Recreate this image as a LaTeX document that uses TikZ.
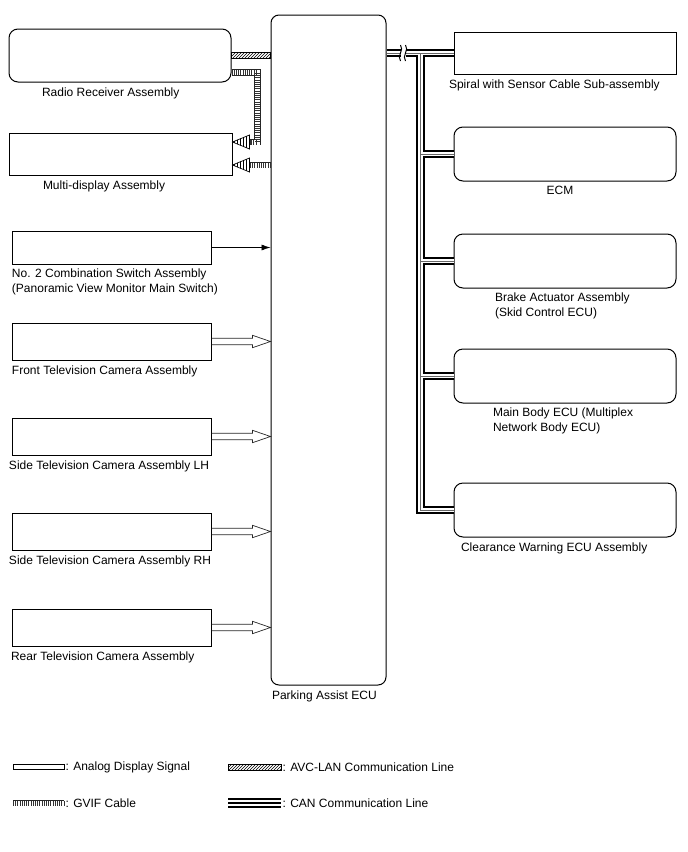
\documentclass[tikz,border=0pt]{standalone}
\usepackage{fontspec}
\setmainfont{Liberation Sans}
\usetikzlibrary{positioning, calc, arrows.meta, patterns}

% hollow analog arrow from #1 to #2
\newcommand{\analogarrow}[2]{%
  \draw[analog] ($(#1.east)+(0,-3.3)$) -- ($(#2.west |- #1.east)+(-18,-3.3)$)
     -- ++(0,-2.9) -- (#2.west |- #1.east) -- ++(-18,6.2) -- ++(0,-2.9)
     -- ($(#1.east)+(0,3.3)$);}
% striped GVIF arrow head, tip at #1
\newcommand{\gvifhead}[1]{%
  \draw[line width=0.7pt, fill=white, postaction={pattern=vertical lines}] (#1) -- ++(17,-7) -- ++(0,14) -- cycle;}

\begin{document}
\begin{tikzpicture}[x=1pt, y=-1pt, line width=1pt,
    box/.style={draw, rectangle, inner sep=0pt},
    rbox/.style={box, rounded corners=9pt},
    lbl/.style={inner sep=0pt, align=left, font=\fontsize{12}{14.5}\selectfont},
    analog/.style={line width=0.7pt, black!85},
    avc/.style={line width=0.7pt, pattern=north east lines},
    gvif/.style={line width=6.6pt, black!85, postaction={draw=white, line width=5pt},
      postaction={draw=black!80, line width=5pt, dash pattern=on 0.7pt off 1.5pt}},
    can/.style={line width=8.5pt, postaction={draw=white, line width=4.6pt},
      postaction={draw=black!60, line width=1pt}}]

    \useasboundingbox (0,0) rectangle (688,852);

    % Parking assist ECU in the middle
    \node[box, rounded corners=8pt, minimum width=115pt, minimum height=670pt] (ecu) at (328.5,350) {};
    \node[lbl, anchor=north west] (ecuL) at ($(ecu.south west)+(1,4.5)$) {Parking Assist ECU};

    % Left column of units
    \node[rbox, minimum width=222pt, minimum height=53pt] (radio) at (120,55.5) {};
    \node[box, minimum width=223pt, minimum height=42pt] (mdisp) at (120.5,154) {};
    \node[box, minimum width=199pt, minimum height=33pt] (sw) at (111.5,247.5) {};
    \node[box, minimum width=199pt, minimum height=37pt] (camF) at (111.5,341.5) {};
    \node[box, minimum width=199pt, minimum height=37pt] (camL) at (111.5,436.5) {};
    \node[box, minimum width=199pt, minimum height=37pt] (camR) at (111.5,531.5) {};
    \node[box, minimum width=199pt, minimum height=37pt] (camB) at (111.5,627.5) {};

    \node[lbl, anchor=north west] (radioL) at ($(radio.south west)+(33,4.5)$) {Radio Receiver Assembly};
    \node[lbl, anchor=north west] (mdispL) at ($(mdisp.south west)+(34,4.5)$) {Multi-display Assembly};
    \node[lbl, anchor=north west] (swL) at ($(sw.south west)+(0,4)$) {No. 2 Combination Switch Assembly\\(Panoramic View Monitor Main Switch)};
    \node[lbl, anchor=north west] (camFL) at ($(camF.south west)+(0,4.5)$) {Front Television Camera Assembly};
    \node[lbl, anchor=north west] (camLL) at ($(camL.south west)+(-3,4.5)$) {Side Television Camera Assembly LH};
    \node[lbl, anchor=north west] (camRL) at ($(camR.south west)+(-3,4.5)$) {Side Television Camera Assembly RH};
    \node[lbl, anchor=north west] (camBL) at ($(camB.south west)+(-1,4.5)$) {Rear Television Camera Assembly};

    % Right column of units on the CAN bus
    \node[box, minimum width=222pt, minimum height=42pt] (spiral) at (565,53) {};
    \node[rbox, minimum width=222pt, minimum height=54pt] (ecm) at (565,154) {};
    \node[rbox, minimum width=222pt, minimum height=54pt] (brake) at (565,261) {};
    \node[rbox, minimum width=222pt, minimum height=54pt] (body) at (565,376) {};
    \node[rbox, minimum width=222pt, minimum height=54pt] (clear) at (565,510) {};

    \node[lbl, anchor=north west] (spiralL) at ($(spiral.south west)+(-5,4.5)$) {Spiral with Sensor Cable Sub-assembly};
    \node[lbl, anchor=north] (ecmL) at ($(ecm.south)+(-5,4.5)$) {ECM};
    \node[lbl, anchor=north west] (brakeL) at ($(brake.south west)+(41,4)$) {Brake Actuator Assembly\\(Skid Control ECU)};
    \node[lbl, anchor=north west] (bodyL) at ($(body.south west)+(39,4)$) {Main Body ECU (Multiplex\\Network Body ECU)};
    \node[lbl, anchor=north west] (clearL) at ($(clear.south west)+(7,4.5)$) {Clearance Warning ECU Assembly};

    % AVC-LAN line radio -> ECU
    \draw[avc] ($(radio.east)+(0,-3)$) rectangle ($(ecu.west |- radio.east)+(0,3)$);

    % GVIF cables into the multi-display
    \coordinate (g1) at ($(mdisp.east)+(0,-12)$);
    \coordinate (g2) at ($(mdisp.east)+(0,11)$);
    \draw[gvif] ($(radio.east)+(0,17)$) -| ($(g1)+(25,0)$) -- ($(g1)+(17,0)$);
    \gvifhead{g1}
    \draw[gvif] (ecu.west |- g2) -- ($(g2)+(17,0)$);
    \gvifhead{g2}

    % Main switch signal
    \draw[-{Latex[length=9pt, width=6pt]}, line width=0.6pt] (sw.east) -- (ecu.west |- sw.east);

    % Camera video signals
    \analogarrow{camF}{ecu}
    \analogarrow{camL}{ecu}
    \analogarrow{camR}{ecu}
    \analogarrow{camB}{ecu}

    % CAN bus with its branches
    \coordinate (trunk) at ($(ecu.east |- spiral.west)+(34,0)$);
    \draw[can] (ecu.east |- spiral.west) -- (spiral.west)
        (trunk) -- (trunk |- clear.west) -- (clear.west)
        (trunk |- ecm.west) -- (ecm.west)
        (trunk |- brake.west) -- (brake.west)
        (trunk |- body.west) -- (body.west);

    % Break mark on the bus
    \coordinate (brk) at ($(ecu.east |- spiral.west)+(14,0)$);
    \fill[white] ($(brk)+(0,-6)$) rectangle ($(brk)+(5,6)$);
    \draw[line width=1pt] ($(brk)+(0,-8)$) .. controls +(4,5) and +(-4,-5) .. ($(brk)+(0,8)$);
    \draw[line width=1pt] ($(brk)+(5,-8)$) .. controls +(4,5) and +(-4,-5) .. ($(brk)+(5,8)$);

    % Legend
    \node[lbl, anchor=west] (legAn) at (65,767) {: Analog Display Signal};
    \draw[line width=0.7pt] ($(legAn.west)+(-52,-2.5)$) rectangle ($(legAn.west)+(-1,2.5)$);
    \node[lbl, anchor=west] (legAvc) at (282,767) {: AVC-LAN Communication Line};
    \draw[avc] ($(legAvc.west)+(-54,-3)$) rectangle ($(legAvc.west)+(-1,3)$);
    \node[lbl, anchor=west] (legGv) at (65,803) {: GVIF Cable};
    \draw[gvif] ($(legGv.west)+(-52,0)$) -- ($(legGv.west)+(-1,0)$);
    \node[lbl, anchor=west] (legCan) at (282,803) {: CAN Communication Line};
    \draw[line width=10pt, postaction={draw=white, line width=6pt}, postaction={draw=black, line width=2pt}]
        ($(legCan.west)+(-54,0)$) -- ($(legCan.west)+(-1,0)$);

\end{tikzpicture}
\end{document}
